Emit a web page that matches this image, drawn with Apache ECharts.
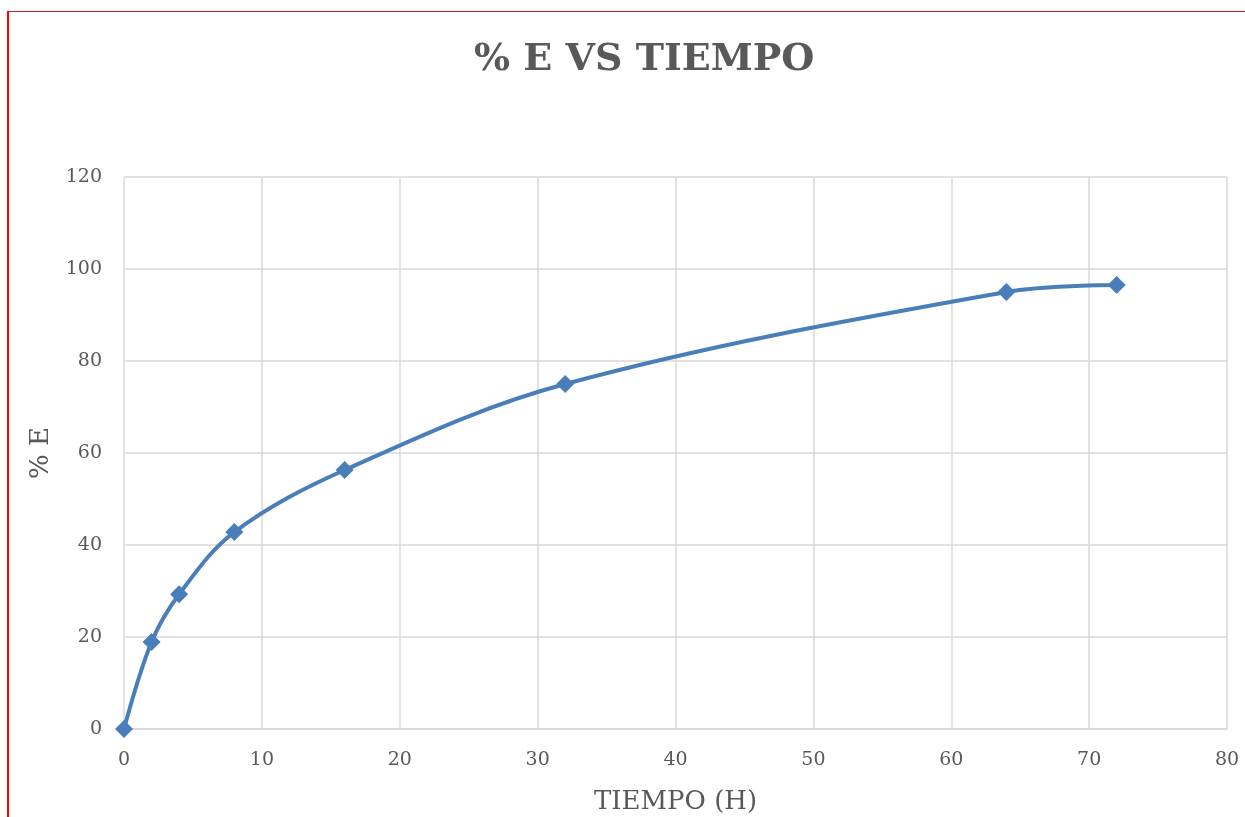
<!DOCTYPE html>
<html><head><meta charset="utf-8">
<script src="https://cdn.jsdelivr.net/npm/echarts@6/dist/echarts.min.js"></script>
<style>
html,body{margin:0;padding:0;background:#fff;}
#c{position:absolute;left:0;top:0;width:1245px;height:817px;}
#bl{position:absolute;left:7px;top:11px;width:2px;height:806px;background:#ff0000;}
#bt{position:absolute;left:7px;top:11px;width:1238px;height:1px;background:#d42020;}
</style></head>
<body>
<div id="c"></div><div id="bl"></div><div id="bt"></div>
<script>
const titleText = '% E VS TIEMPO';
const xName = 'TIEMPO (H)';
const yName = '% E';
const tiempo = [0, 2, 4, 8, 16, 32, 64, 72];
const pctE = [0, 18.9, 29.3, 42.8, 56.3, 75.0, 95.0, 96.5];

const chart = echarts.init(document.getElementById('c'), null, {renderer:'canvas'});
const font = 'DejaVu Serif';
chart.setOption({
  animation:false,
  title:{text:titleText,left:469,top:36,textStyle:{fontFamily:font,fontWeight:'bold',fontSize:38,color:'#595959'}},
  grid:{left:124,right:18,top:177,bottom:88,containLabel:false,outerBoundsMode:'none'},
  xAxis:{type:'value',min:0,max:80,interval:10,name:xName,nameLocation:'middle',nameGap:60,
    nameTextStyle:{fontFamily:font,fontSize:26,color:'#595959'},
    axisLine:{show:true,lineStyle:{color:'#d9d9d9',width:1.5}},axisTick:{show:false},
    axisLabel:{fontFamily:font,fontSize:19,color:'#595959',margin:22},
    splitLine:{show:true,lineStyle:{color:'#d9d9d9',width:1.5}}},
  yAxis:{type:'value',min:0,max:120,interval:20,name:yName,nameLocation:'middle',nameGap:70,
    nameTextStyle:{fontFamily:font,fontSize:26,color:'#595959'},
    axisLine:{show:false},axisTick:{show:false},
    axisLabel:{fontFamily:font,fontSize:19,color:'#595959',margin:22},
    splitLine:{show:true,lineStyle:{color:'#d9d9d9',width:1.5}}},
  series:[{type:'line',data:tiempo.map((t,i)=>[t,pctE[i]]),smooth:0.35,
    symbol:'diamond',symbolSize:18,
    lineStyle:{color:'#4a7ebb',width:4},itemStyle:{color:'#4a7ebb'}}]
});
</script>
</body></html>
